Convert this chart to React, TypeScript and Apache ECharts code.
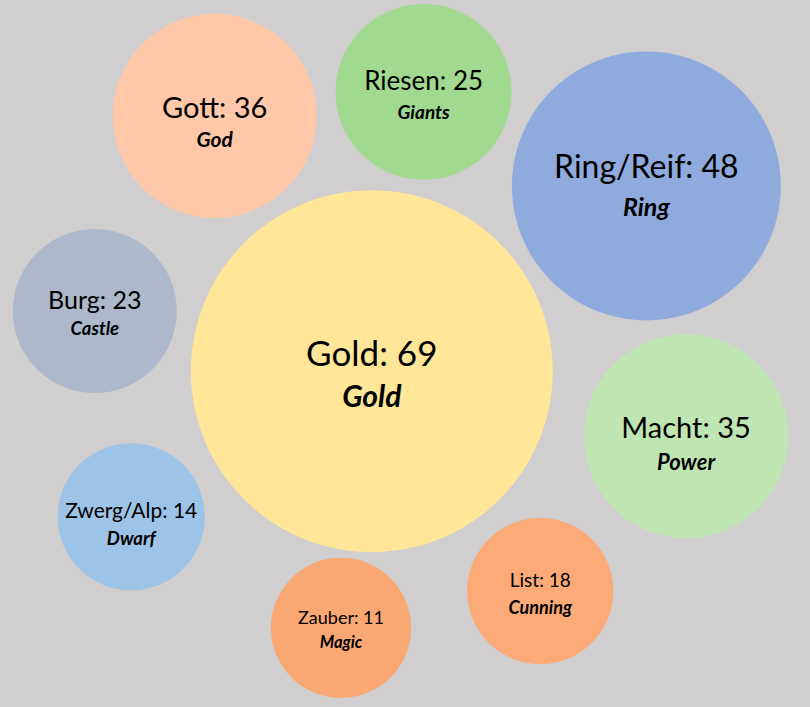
import React, { useEffect, useRef } from "react";
import * as echarts from "echarts";

// German word, its count, and English gloss
const words = ["Gold", "Ring/Reif", "Gott", "Riesen", "Burg", "Macht", "Zwerg/Alp", "Zauber", "List"];
const counts = [69, 48, 36, 25, 23, 35, 14, 11, 18];
const glosses = ["Gold", "Ring", "God", "Giants", "Castle", "Power", "Dwarf", "Magic", "Cunning"];
// bubble chart dimensions (x, y and bubble size in chart units)
const xValues = [45.9, 79.8, 26.5, 52.3, 11.7, 84.7, 16.2, 42.1, 66.7];
const yValues = [47.5, 73.7, 83.6, 87.0, 56.0, 38.3, 26.9, 11.2, 16.4];
const bubbleSizes = [100, 55.2, 31.8, 23.6, 20.5, 31.8, 16.5, 15.0, 16.3];

// styles (kept separate from the data)
const colors = ["#FFE699", "#8FAADC", "#FFC8A9", "#A0D98F", "#ADB9CA", "#BFE5B3", "#9DC3E6", "#F9A874", "#FBAA78"];
const titleFont = [35, 32, 29, 26, 25, 29, 21, 18, 19];
const glossFont = [30, 25, 21, 19, 18.5, 22, 18.5, 16.5, 18];
const lineGap = [43, 40, 32, 32, 29, 35, 28, 25, 28];
const labelShift = [2, 0, 7, 4, 2, 8, 7, 2, 2];
const MAX_DIAMETER = 362;
const FONT = "Lato, 'Open Sans', sans-serif";

export default function App() {
  const ref = useRef<HTMLDivElement>(null);
  useEffect(() => {
    if (!ref.current) return;
    const chart = echarts.init(ref.current, null, { renderer: "svg" });
    const data = words.map((w, i) => ({
      name: w,
      value: [xValues[i], yValues[i], bubbleSizes[i], counts[i]],
      itemStyle: { color: colors[i], opacity: 1 },
      label: {
        show: true,
        position: "inside",
        offset: [0, labelShift[i]],
        formatter: `{a|${w}: ${counts[i]}}\n{b|${glosses[i]}}`,
        rich: {
          a: {
            fontFamily: FONT,
            fontSize: titleFont[i],
            color: "#000",
            lineHeight: lineGap[i],
            align: "center",
          },
          b: {
            fontFamily: FONT,
            fontSize: glossFont[i],
            fontWeight: "bold",
            fontStyle: "italic",
            color: "#000",
            lineHeight: lineGap[i],
            align: "center",
          },
        },
      },
    }));
    chart.setOption({
      animation: false,
      backgroundColor: "#D0CECE",
      grid: { left: 0, right: 0, top: 0, bottom: 0 },
      xAxis: { type: "value", min: 0, max: 100, show: false },
      yAxis: { type: "value", min: 0, max: 100, show: false },
      series: [
        {
          type: "scatter",
          symbol: "circle",
          symbolSize: (v: number[]) => MAX_DIAMETER * Math.sqrt(v[2] / 100),
          data,
          emphasis: { disabled: true },
        },
      ],
    });
    return () => chart.dispose();
  }, []);
  return (
    <div
      ref={ref}
      style={{ position: "fixed", left: 0, top: 0, width: 810, height: 707 }}
    />
  );
}
